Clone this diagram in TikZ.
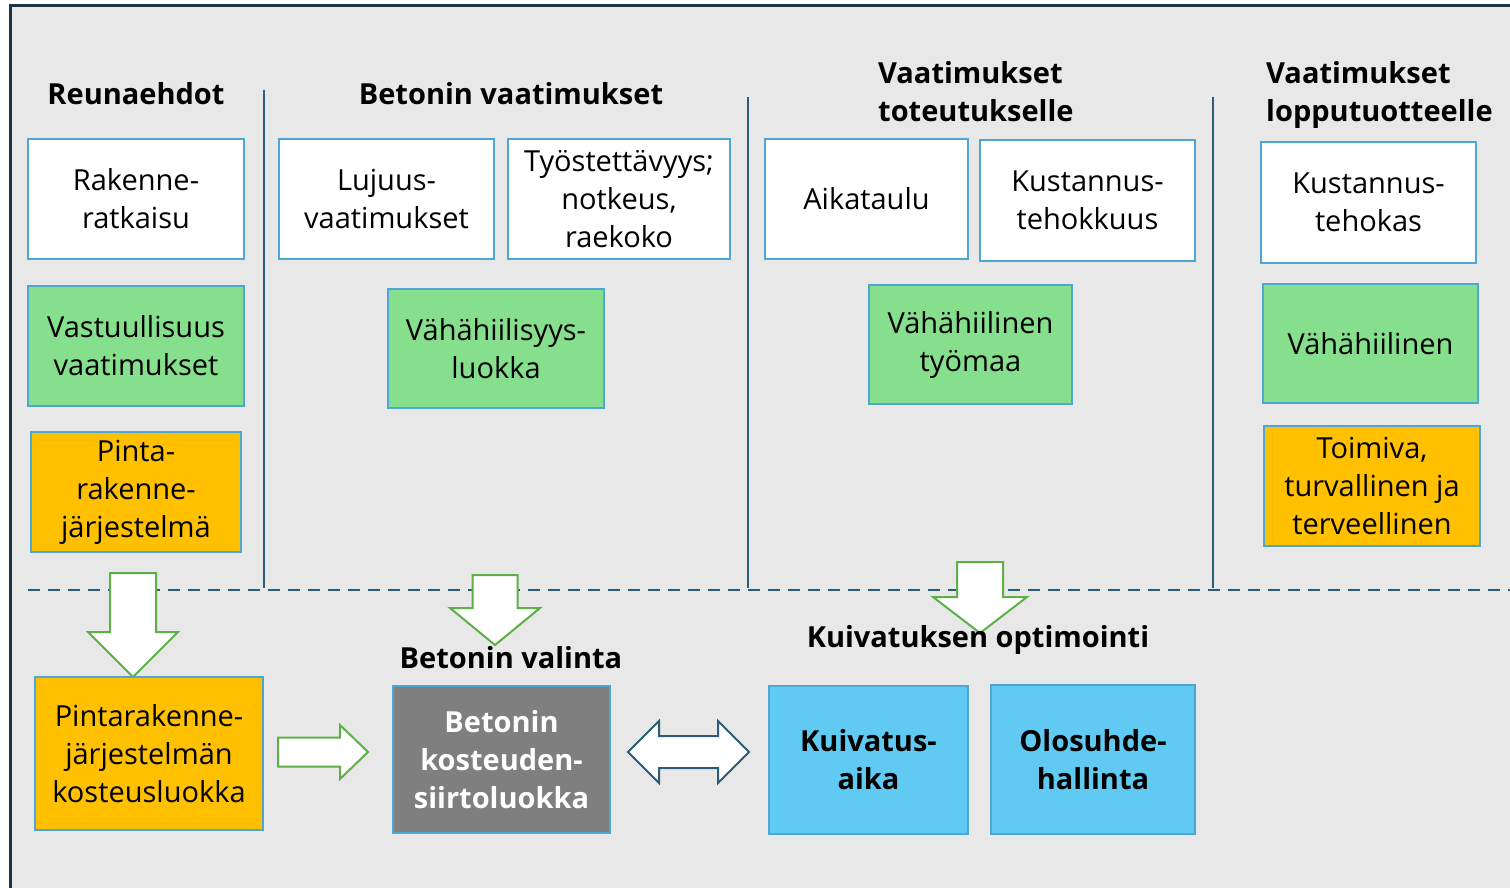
\documentclass[tikz,border=0pt]{standalone}
\usepackage{fontspec}
\setmainfont{Open Sans}
\usepackage{xcolor}
\definecolor{bggray}{HTML}{E8E8E9}
\definecolor{frame}{HTML}{1E3444}
\definecolor{boxline}{HTML}{4DA6D3}
\definecolor{sepline}{HTML}{2B5C78}
\definecolor{lgreen}{HTML}{86DF8C}
\definecolor{lorange}{HTML}{FFC000}
\definecolor{dgray}{HTML}{7F7F7F}
\definecolor{lblue}{HTML}{60CAF2}
\definecolor{agreen}{HTML}{5EAF47}

\begin{document}
\begin{tikzpicture}[
	x=1pt, y=-1pt,
	box/.style={
		draw=boxline, line width=1.8pt, rectangle,
		align=center, inner sep=0pt,
		font=\fontsize{29}{38}\selectfont
	},
	wbox/.style={box, fill=white},
	gbox/.style={box, fill=lgreen},
	obox/.style={box, fill=lorange},
	kbox/.style={box, fill=dgray, text=white, font=\fontsize{29}{38}\selectfont\bfseries},
	bbox/.style={box, fill=lblue, font=\fontsize{29}{38}\selectfont\bfseries},
	head/.style={font=\fontsize{29}{38}\selectfont\bfseries, inner sep=0pt},
	sep/.style={draw=sepline, line width=2.2pt},
	blk/.style={draw=agreen, fill=white, line width=2pt},
	dbl/.style={draw=sepline, fill=white, line width=2pt},
	]
	\useasboundingbox (0,0) rectangle (1510,887);
	\clip (0,0) rectangle (1510,887);
	\draw[frame, line width=3pt, fill=bggray] (10,5) rectangle (1540,910);

	% headings
	\node[head] (hreu) at (136,94) {Reunaehdot};
	\node[head] (hbet) at (511,94) {Betonin vaatimukset};
	\node[head, align=left, anchor=west] (htot) at (878,92) {Vaatimukset\\toteutukselle};
	\node[head, align=left, anchor=west] (hlop) at (1266,95) {Vaatimukset\\lopputuotteelle};

	% column separators
	\draw[sep] (264,90) -- (264,588);
	\draw[sep] (748,97) -- (748,588);
	\draw[sep] (1213,97) -- (1213,588);
	\draw[sep, dash pattern=on 12pt off 8pt] (28,590) -- (1510,590);

	% top row
	\node[wbox, minimum width=216pt, minimum height=120pt] (rak) at (136,199) {Rakenne-\\ratkaisu};
	\node[wbox, minimum width=215pt, minimum height=120pt] (luj) at (386.5,199) {Lujuus-\\vaatimukset};
	\node[wbox, minimum width=222pt, minimum height=120pt] (tyo) at (619,199) {Työstettävyys;\\notkeus,\\raekoko};
	\node[wbox, minimum width=203pt, minimum height=120pt] (aik) at (866.5,199) {Aikataulu};
	\node[wbox, minimum width=215pt, minimum height=121pt] (kus) at (1087.5,200.5) {Kustannus-\\tehokkuus};
	\node[wbox, minimum width=215pt, minimum height=121pt] (kul) at (1368.5,202.5) {Kustannus-\\tehokas};

	% green row
	\node[gbox, minimum width=216pt, minimum height=120pt] (vas) at (136,346) {Vastuullisuus\\vaatimukset};
	\node[gbox, minimum width=216pt, minimum height=119pt] (vhl) at (496,348.5) {Vähähiilisyys-\\luokka};
	\node[gbox, minimum width=203pt, minimum height=119pt] (vtm) at (970.5,344.5) {Vähähiilinen\\työmaa};
	\node[gbox, minimum width=215pt, minimum height=119pt] (vhn) at (1370.5,343.5) {Vähähiilinen};

	% orange
	\node[obox, minimum width=210pt, minimum height=120pt] (pin) at (136,492) {Pinta-\\rakenne-\\järjestelmä};
	\node[obox, minimum width=216pt, minimum height=120pt] (toi) at (1372,486) {Toimiva,\\turvallinen ja\\terveellinen};

	% block arrows
	\coordinate (t1) at (133,677);
	\coordinate (t2) at (495,645);
	\coordinate (t3) at (980,633);
	\coordinate (t4) at (368,752);
	\coordinate (t5) at (628,752);
	\draw[blk] (t1) -- ++(45,-45) -- ++(-22,0) -- ++(0,-59)
		-- ++(-46,0) -- ++(0,59) -- ++(-22,0) -- cycle;
	\draw[blk] (t2) -- ++(45,-37) -- ++(-22.5,0) -- ++(0,-33)
		-- ++(-45,0) -- ++(0,33) -- ++(-22.5,0) -- cycle;
	\draw[blk] (t3) -- ++(47,-36) -- ++(-24,0) -- ++(0,-35)
		-- ++(-46,0) -- ++(0,35) -- ++(-24,0) -- cycle;
	\draw[blk] (t4) -- ++(-28,-27) -- ++(0,12.5) -- ++(-62,0)
		-- ++(0,29) -- ++(62,0) -- ++(0,12.5) -- cycle;
	\draw[dbl] (t5) -- ++(31,-31) -- ++(0,15) -- ++(59,0) -- ++(0,-15)
		-- ++(31,31) -- ++(-31,31) -- ++(0,-15) -- ++(-59,0) -- ++(0,15) -- cycle;

	% lower part
	\node[head] (hval) at (511,658) {Betonin valinta};
	\node[head] (hkui) at (978,640) {Kuivatuksen optimointi};
	\node[obox, minimum width=228pt, minimum height=153pt] (pjk) at (149,753.5) {Pintarakenne-\\järjestelmän\\kosteusluokka};
	\node[kbox, minimum width=217pt, minimum height=147pt] (bks) at (501.5,759.5) {Betonin\\kosteuden-\\siirtoluokka};
	\node[bbox, minimum width=199pt, minimum height=148pt] (kui) at (868.5,760) {Kuivatus-\\aika};
	\node[bbox, minimum width=204pt, minimum height=149pt] (olo) at (1093,759.5) {Olosuhde-\\hallinta};
\end{tikzpicture}
\end{document}
